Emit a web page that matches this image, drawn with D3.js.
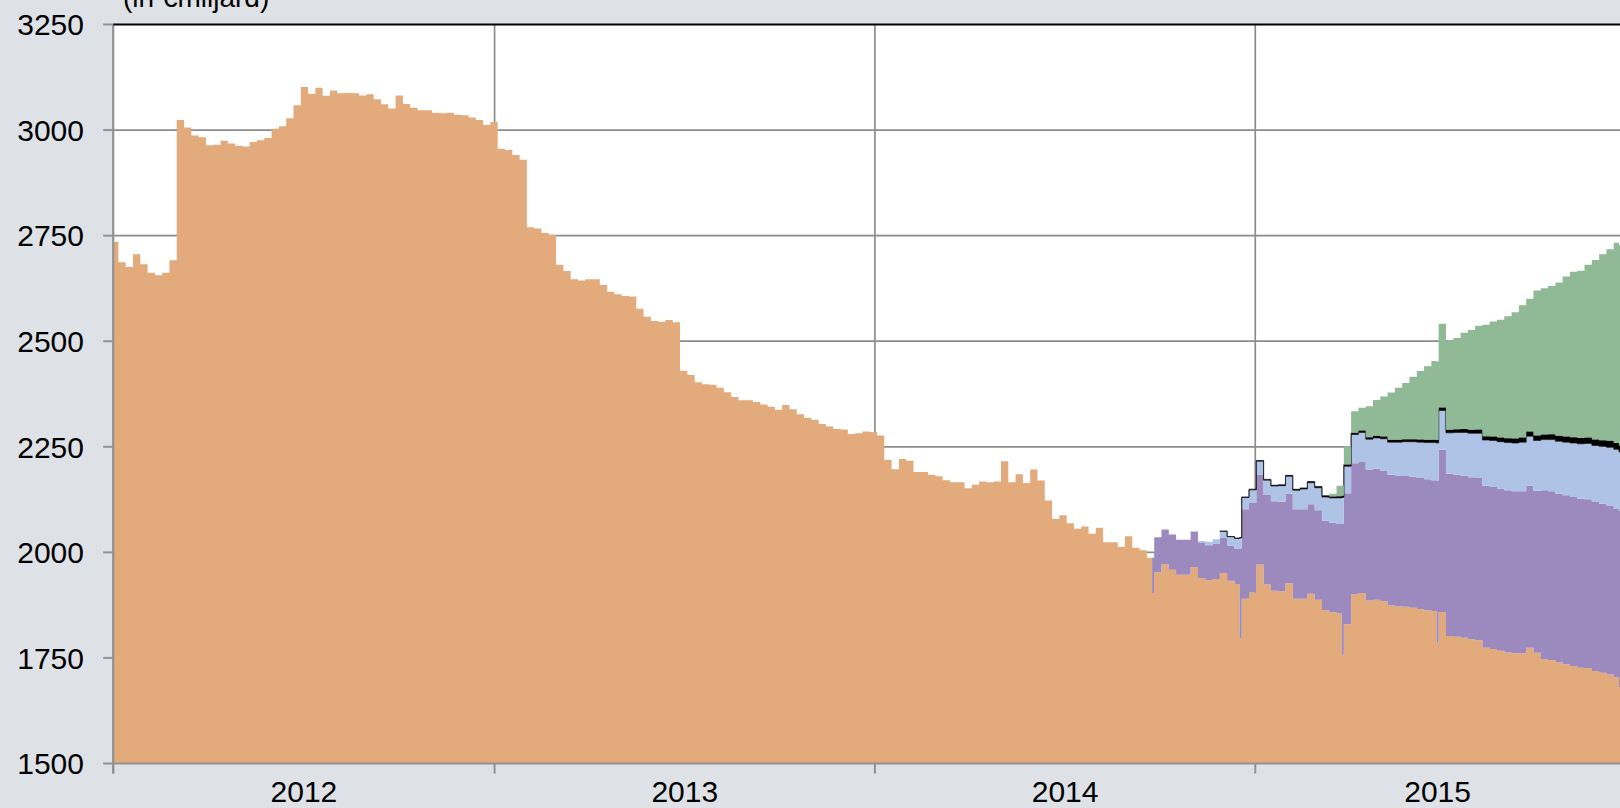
<!DOCTYPE html>
<html><head><meta charset="utf-8">
<script src="https://cdn.jsdelivr.net/npm/d3@7"></script>
<style>
html,body{margin:0;padding:0;background:#dee2e7;}
svg{display:block;}
text{font-family:"Liberation Sans",Arial,sans-serif;fill:#000;}
</style></head><body>
<svg id="chart" width="1620" height="808"></svg>
<script>
// ---- data (€ billion, weekly financial statements) ----
const firstWeek = "2011-12-30";
const other = [
2735,2687,2676,2706,2682,2662,2656,2662,2692,3024,3006,2987,2983,2964,2965,2975,2968,2963,2961,2972,
2976,2981,3003,3009,3028,3059,3102,3086,3100,3081,3094,3087,3088,3087,3082,3085,3073,3061,3051,3082,
3062,3053,3047,3047,3041,3040,3041,3036,3035,3030,3024,3012,3019,2956,2953,2941,2930,
2770,2767,2756,2752,2681,2666,2647,2644,2647,2647,2633,2617,2611,2607,2606,2577,2558,2548,2546,2550,
2545,2430,2420,2403,2398,2397,2390,2379,2368,2360,2360,2356,2350,2345,2338,2349,2339,2327,2319,2314,
2304,2298,2292,2291,2280,2282,2286,2285,2277,
2219,2197,2221,2217,2190,2190,2184,2180,2171,2166,2166,2152,2160,2168,2166,2168,2216,2166,2185,2164,
2196,2170,2123,2079,2088,2069,2056,2061,2044,2058,2024,2024,2013,2038,2011,2005,1987,
1953,1971,1959,1947,1947,1965,1939,1934,1937,1951,1933,1925,1890,1905,1971,1924,1909,1908,1927,1890,
1890,1902,1888,1863,1858,1855,1830,1901,1904,1886,1888,1884,1874,1872,
1871,1869,1866,1863,1861,1859,1802,1800,1798,1794,1792,1774,1771,1767,1763,1761,1761,1774,1762,1747,
1745,1739,1735,1731,1727,1726,1719,1715,1711,1704
];
const tltroStart = "2014-09-26";
const tltro = [
83,83,83,83,83,83,83,83,83,83,83,83,
212,212,212,212,212,212,212,212,212,212,212,212,212,212,
310,310,310,310,310,310,310,310,310,310,310,310,310,
384,384,384,384,384,384,384,384,384,384,384,384,384,384,
400,400,400,400,400,400,400,400,400,400,400
];
const cbpp3Start = "2014-10-31";
const cbpp3 = [
2,5,8,11,16,21,25,28,31,33,35,36,38,41,45,48,51,53,56,59,
62,64,68,70,72,73,75,77,79,81,83,85,87,89,93,97,100,102,104,106,
108,110,111,113,114,116,117,119,120,122,124,126,128,130,132,134,136,138,140
];
const absppStart = "2014-11-28";
const abspp = [
0.4,0.6,1.0,1.3,1.7,1.7,1.8,2.0,2.1,2.3,2.4,2.6,2.8,3.0,3.2,3.5,3.9,4.2,4.4,4.6,
4.8,5.0,5.2,5.4,5.6,5.8,6.0,6.3,6.6,6.9,7.2,7.5,7.8,8.1,8.4,8.7,9.0,9.4,9.8,10.2,
10.6,11.0,11.4,11.8,12.2,12.6,12.9,13.2,13.5,13.8,14.1,14.4,14.7,15.0,15.2
];
const psppStart = "2015-03-13";
const pspp = [
6,25,43,51,54,73,85,95,112,123,133,148,162,174,186,198,210,216,228,236,
246,264,272,279,289,299,313,314,343,346,351,363,379,392,396,409,425,440,454,474
];
// TLTRO settlement days (short dips in the "other" layer)
const dipDates = ["2014-09-24","2014-12-17","2015-03-25","2015-06-24","2015-12-16"];
const dipOther = [1904,1797,1758,1786,1680];
const dipTltro = [83,212,310,384,418];

const yTicks = [1500,1750,2000,2250,2500,2750,3000,3250];
const yearLabels = ["2012","2013","2014","2015"];
const subtitle = "(in €miljard)";
const seriesKeys = ["other","tltro","cbpp3","abspp","pspp"];
const seriesColors = {other:"#e3ab7b", tltro:"#9c89bd", cbpp3:"#aec3e6", abspp:"#000000", pspp:"#8fba95"};

(function(){
// ---- build rows ----
const parse = d3.timeParse("%Y-%m-%d");
const t0 = parse(firstWeek);
const weekly = other.map((v,k)=>({date:d3.timeDay.offset(t0,7*k), other:v}));
function attach(key,start,arr){
  const off = Math.round(d3.timeDay.count(t0, parse(start))/7);
  arr.forEach((v,i)=>{ weekly[off+i][key]=v; });
}
attach("tltro",tltroStart,tltro);
attach("cbpp3",cbpp3Start,cbpp3);
attach("abspp",absppStart,abspp);
attach("pspp",psppStart,pspp);
const rows = weekly.slice();
dipDates.forEach((ds,i)=>{
  const d = parse(ds);
  const prev = weekly.filter(r=>r.date<d).pop();
  rows.push({date:d, other:dipOther[i], tltro:dipTltro[i], cbpp3:prev.cbpp3, abspp:prev.abspp, pspp:prev.pspp});
});
rows.sort((a,b)=>a.date-b.date);
const lastRow = rows[rows.length-1];
rows.push(Object.assign({}, lastRow, {date:d3.timeDay.offset(weekly[weekly.length-1].date,7)}));

// ---- layout ----
const W=1620;
const pLeft=113.2, pTop=24.5, pBottom=763.5;
const x = d3.scaleTime().domain([new Date(2012,0,1), new Date(2016,0,1)]).range([pLeft, pLeft+1461*1.04203]);
const y = d3.scaleLinear().domain([1500,3250]).range([pBottom, pTop]);
const svg = d3.select("#chart");

svg.append("rect").attr("x",pLeft).attr("y",pTop).attr("width",W-pLeft).attr("height",pBottom-pTop).attr("fill","#fff");
svg.append("clipPath").attr("id","plotclip").append("rect")
  .attr("x",pLeft).attr("y",pTop).attr("width",W-pLeft).attr("height",pBottom-pTop);

// gridlines
const grid = svg.append("g").attr("stroke","#8c8c8c").attr("stroke-width",1.7);
yTicks.filter(v=>v>1500 && v<3250).forEach(v=>{
  grid.append("line").attr("x1",pLeft).attr("x2",W).attr("y1",y(v)).attr("y2",y(v));
});
const yearStarts = [2013,2014,2015,2016].map(yr=>new Date(yr,0,1));
yearStarts.forEach(d=>{
  grid.append("line").attr("x1",x(d)).attr("x2",x(d)).attr("y1",pTop).attr("y2",pBottom);
});

// stacked areas
const stack = d3.stack().keys(seriesKeys).value((d,k)=>d[k]||0);
const series = stack(rows);
const g = svg.append("g").attr("clip-path","url(#plotclip)");
series.forEach(s=>{
  const key = s.key;
  const area = d3.area().curve(d3.curveStepAfter)
    .defined(d=>d.data[key]!=null)
    .x(d=>x(d.data.date)).y0(d=>y(d[0])).y1(d=>y(d[1]));
  const p = g.append("path").attr("d",area(s)).attr("fill",seriesColors[key]);
  if(key==="abspp") p.attr("stroke","#000").attr("stroke-width",0.6);
});

// axes
const axisColor="#929292";
svg.append("line").attr("x1",pLeft).attr("x2",W).attr("y1",pBottom).attr("y2",pBottom).attr("stroke",axisColor).attr("stroke-width",2.2);
svg.append("line").attr("x1",pLeft).attr("x2",pLeft).attr("y1",pTop).attr("y2",pBottom+10).attr("stroke",axisColor).attr("stroke-width",2.2);
svg.append("line").attr("x1",pLeft).attr("x2",W).attr("y1",pTop).attr("y2",pTop).attr("stroke","#000").attr("stroke-width",2);

// y ticks & labels
yTicks.forEach(v=>{
  svg.append("line").attr("x1",pLeft-10).attr("x2",pLeft).attr("y1",y(v)).attr("y2",y(v)).attr("stroke",axisColor).attr("stroke-width",2);
  svg.append("text").attr("x",84).attr("y",y(v)).attr("dy","0.36em").attr("text-anchor","end")
    .attr("font-size",30).text(v);
});
// x ticks & labels
[new Date(2012,0,1)].concat(yearStarts).forEach(d=>{
  svg.append("line").attr("x1",x(d)).attr("x2",x(d)).attr("y1",pBottom).attr("y2",pBottom+10).attr("stroke",axisColor).attr("stroke-width",2);
});
yearLabels.forEach(yl=>{
  const a = x(new Date(+yl,0,1)), b = Math.min(x(new Date(+yl+1,0,1)), W);
  svg.append("text").attr("x",(a+b)/2).attr("y",802).attr("text-anchor","middle").attr("font-size",30).text(yl);
});
// subtitle (cut off at top)
svg.append("text").attr("x",123).attr("y",6.5).attr("font-size",28).text(subtitle);
})();
</script>
</body></html>
